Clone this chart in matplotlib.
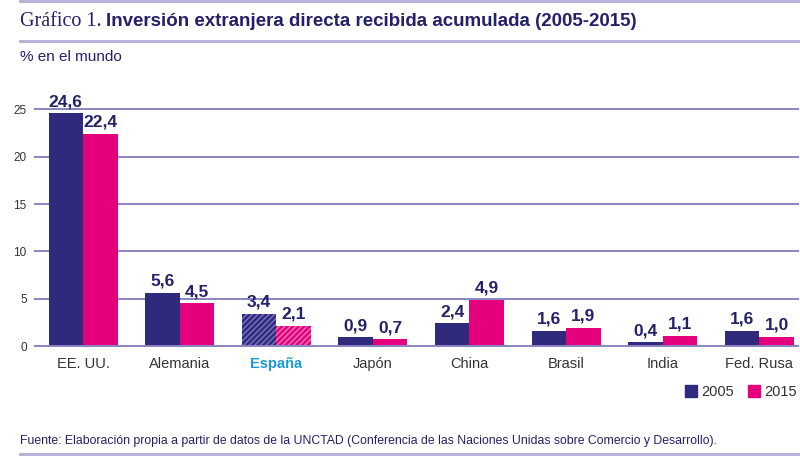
import matplotlib
matplotlib.use("Agg")
import matplotlib.pyplot as plt
from matplotlib.patches import Patch
from matplotlib.lines import Line2D
import numpy as np

categories = ["EE. UU.", "Alemania", "España", "Japón", "China", "Brasil", "India", "Fed. Rusa"]
v2005 = [24.6, 5.6, 3.4, 0.9, 2.4, 1.6, 0.4, 1.6]
v2015 = [22.4, 4.5, 2.1, 0.7, 4.9, 1.9, 1.1, 1.0]
labels2005 = ["24,6", "5,6", "3,4", "0,9", "2,4", "1,6", "0,4", "1,6"]
labels2015 = ["22,4", "4,5", "2,1", "0,7", "4,9", "1,9", "1,1", "1,0"]
yticks = [0, 5, 10, 15, 20, 25]
series = ["2005", "2015"]

NAVY = "#2f2a7c"
MAGENTA = "#e5007d"
TEXT = "#24206a"
GRID = "#8a84c2"
RULE = "#b3afd8"
HILITE = "#1b9ad6"

plt.rcParams['font.family'] = ['Liberation Sans', 'DejaVu Sans']
plt.rcParams['hatch.linewidth'] = 1.0

W, H = 800, 461
fig = plt.figure(figsize=(W/100, H/100), dpi=100)

def fx(px): return px / W
def fy(py): return 1 - py / H

ax = fig.add_axes([fx(35), fy(346), fx(798) - fx(35), fy(109.5) - fy(346)])

x = np.arange(len(categories))
bw = 0.357
hl = categories.index("España")

b1 = ax.bar(x - bw/2, v2005, bw, color=NAVY, zorder=3, linewidth=0)
b2 = ax.bar(x + bw/2, v2015, bw, color=MAGENTA, zorder=3, linewidth=0)
b1[hl].set_hatch("//////")
b1[hl].set_edgecolor("#7c77c0")
b1[hl].set_linewidth(0)
b2[hl].set_hatch("//////")
b2[hl].set_edgecolor("#f27ab8")
b2[hl].set_linewidth(0)

for xi, v, lab in zip(x - bw/2, v2005, labels2005):
    ax.annotate(lab, (xi, v), xytext=(0, 3), textcoords="offset points",
                ha="center", va="bottom", fontsize=12.5, fontweight="bold", color=TEXT,
                zorder=5, annotation_clip=False)
for xi, v, lab in zip(x + bw/2, v2015, labels2015):
    ax.annotate(lab, (xi, v), xytext=(0, 3), textcoords="offset points",
                ha="center", va="bottom", fontsize=12.5, fontweight="bold", color=TEXT,
                zorder=5, annotation_clip=False)

ax.set_xlim(-0.497, 7.40)
ax.set_ylim(0, 25)
ax.set_yticks(yticks)
ax.set_yticklabels([str(t) for t in yticks], fontsize=8.5, color="#333333")
for t in yticks:
    ax.axhline(t, color=GRID, lw=1.4, zorder=2 if t else 4, clip_on=False)
ax.tick_params(axis="y", length=0, pad=6)
ax.set_xticks(x)
ax.set_xticklabels(categories, fontsize=10.5, color="#333333")
ax.tick_params(axis="x", length=0, pad=8)
xl = ax.get_xticklabels()
xl[hl].set_color(HILITE)
xl[hl].set_fontweight("bold")
for s in ax.spines.values():
    s.set_visible(False)
ax.patch.set_alpha(0)

# rules
fig.add_artist(Line2D([fx(20), fx(798)], [fy(1), fy(1)], color=RULE, lw=2))
fig.add_artist(Line2D([fx(20), fx(798)], [fy(41), fy(41)], color=RULE, lw=2))
fig.add_artist(Line2D([fx(20), fx(798)], [fy(454), fy(454)], color=RULE, lw=2))

# title
t1 = fig.text(fx(20), fy(21), "Gráfico 1.", fontsize=14.5, color=TEXT,
              family=["Liberation Serif", "DejaVu Serif"], va="center", ha="left")
fig.canvas.draw()
bb = t1.get_window_extent(fig.canvas.get_renderer())
fig.text(bb.x1 / W + fx(4), fy(21), "Inversión extranjera directa recibida acumulada (2005-2015)",
         fontsize=13.5, fontweight="bold", color=TEXT, va="center", ha="left")

fig.text(fx(20), fy(57), "% en el mundo", fontsize=11, color=TEXT, va="center", ha="left")

handles = [Patch(color=NAVY, label=series[0]), Patch(color=MAGENTA, label=series[1])]
fig.legend(handles=handles, loc="center right", bbox_to_anchor=(fx(797), fy(392)), ncol=2,
           frameon=False, fontsize=10.5, handlelength=0.8, handleheight=0.8,
           handletextpad=0.3, columnspacing=1.0, labelcolor="#333333",
           borderpad=0, borderaxespad=0)

fig.text(fx(20), fy(441), "Fuente: Elaboración propia a partir de datos de la UNCTAD (Conferencia de las Naciones Unidas sobre Comercio y Desarrollo).",
         fontsize=8.85, color=TEXT, va="center", ha="left")

fig.savefig("out.png", dpi=100)
